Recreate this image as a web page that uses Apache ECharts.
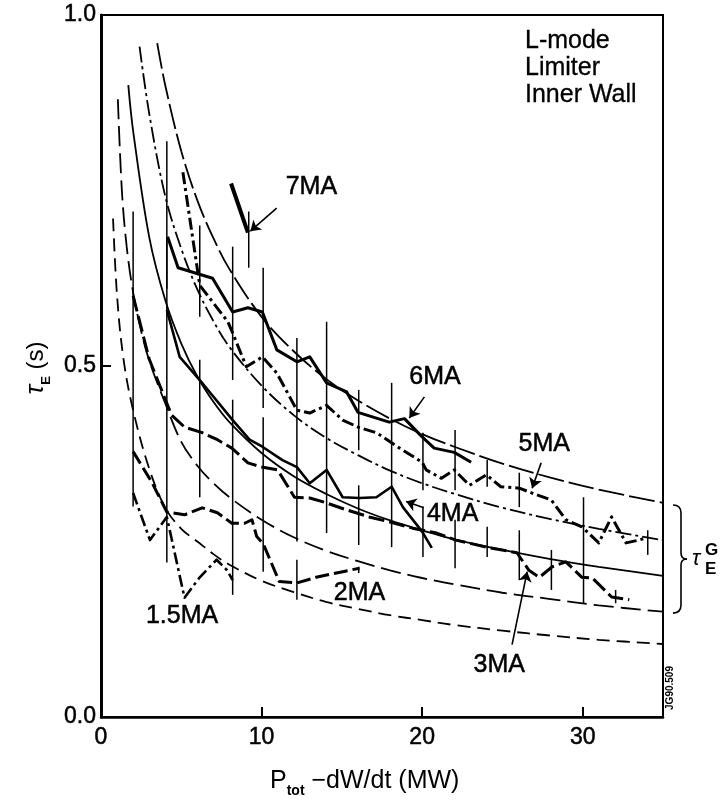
<!DOCTYPE html>
<html><head><meta charset="utf-8">
<script src="https://cdn.jsdelivr.net/npm/echarts@6/dist/echarts.min.js"></script>
<style>html,body{margin:0;padding:0;background:#fff}#c{width:720px;height:801px}</style>
</head><body><div id="c"></div>
<script>
const FONT = '"Liberation Sans", Arial, Helvetica, sans-serif';
const xTicks = [0, 10, 20, 30];
const yTicks = [0.0, 0.5, 1.0];

// smooth scaling curves (tau_E^G)
const curveA = [[3.5,0.96],[4,0.90],[5,0.806],[6,0.736],[7,0.682],[8,0.638],[10,0.570],[12,0.521],[14,0.482],[16,0.451],[18,0.425],[20,0.403],[22,0.385],[25,0.361],[28,0.341],[31,0.324],[35,0.305]];
const curveB = [[2.4,0.955],[3,0.86],[4,0.742],[5,0.667],[6,0.609],[7,0.564],[8,0.527],[10,0.472],[12,0.430],[14,0.398],[16,0.373],[18,0.351],[20,0.333],[22,0.318],[25,0.298],[28,0.282],[31,0.268],[35,0.252]];
const curveC = [[1.7,0.90],[2,0.835],[3,0.684],[4,0.594],[5,0.532],[6,0.485],[7,0.449],[8,0.420],[10,0.376],[12,0.343],[14,0.318],[16,0.297],[18,0.280],[20,0.266],[22,0.253],[25,0.238],[28,0.225],[31,0.214],[35,0.201]];
const curveD = [[1.05,0.88],[1.3,0.75],[1.6,0.67],[2,0.605],[2.5,0.55],[3,0.508],[4,0.447],[5,0.392],[6,0.358],[7,0.333],[8,0.313],[10,0.281],[12,0.256],[14,0.237],[16,0.222],[18,0.209],[20,0.198],[22,0.189],[25,0.177],[28,0.168],[31,0.159],[35,0.150]];
const curveE = [[0.75,0.71],[1,0.60],[1.4,0.51],[2,0.437],[3,0.354],[4,0.298],[5,0.268],[6,0.250],[7,0.232],[8,0.217],[10,0.194],[12,0.178],[14,0.164],[16,0.154],[18,0.145],[20,0.138],[22,0.131],[25,0.123],[28,0.116],[31,0.110],[35,0.104]];

// measured data per plasma current
const ma7 = [[8.1,0.76],[9.15,0.69]];
const ma6 = [[4.15,0.684],[4.8,0.640],[6.95,0.625],[8.2,0.577],[9.15,0.583],[10.05,0.577],[10.95,0.523],[12.2,0.506],[13.0,0.513],[14.05,0.476],[15.3,0.463],[16.0,0.434],[17.95,0.420],[18.9,0.425],[20.0,0.399],[20.75,0.383],[22.0,0.377],[23.05,0.363]];
const ma5 = [[5.1,0.776],[6.15,0.615],[7.9,0.563],[8.2,0.547],[9.05,0.499],[10.05,0.513],[10.95,0.490],[11.75,0.456],[12.2,0.437],[13.0,0.433],[14.05,0.444],[15.05,0.423],[16.0,0.413],[17.15,0.405],[18.6,0.383],[20.0,0.363],[20.25,0.352],[21.2,0.340],[22.0,0.352],[22.95,0.330],[24.0,0.345],[24.9,0.328],[26.05,0.326],[26.85,0.319],[28.05,0.309],[28.95,0.281],[29.95,0.271],[31.0,0.248],[31.8,0.285],[32.7,0.248],[33.5,0.252],[34.05,0.256]];
const ma4 = [[4.1,0.580],[4.9,0.513],[6.15,0.480],[8.2,0.423],[9.25,0.395],[10.05,0.385],[11.3,0.366],[12.2,0.356],[13.0,0.333],[14.05,0.352],[15.05,0.313],[16.1,0.312],[17.15,0.313],[18.1,0.328],[18.8,0.299],[20.0,0.264],[20.6,0.241]];
const ma3 = [[2.0,0.60],[3.0,0.51],[4.1,0.447],[4.4,0.430],[5.2,0.413],[6.3,0.405],[7.25,0.395],[8.15,0.383],[9.15,0.362],[10.0,0.356],[11.0,0.352],[12.05,0.313],[13.0,0.312],[13.9,0.306],[15.3,0.295],[16.7,0.285],[17.95,0.278],[19.4,0.269],[20.9,0.262],[22.1,0.252],[24.2,0.241],[25.9,0.234],[26.65,0.209],[27.3,0.199],[28.1,0.214],[28.95,0.221],[29.95,0.199],[30.6,0.198],[31.8,0.171],[32.9,0.167]];
const ma2 = [[2.0,0.378],[3.15,0.335],[4.1,0.292],[5.2,0.288],[6.3,0.298],[7.25,0.291],[8.15,0.276],[8.95,0.276],[9.4,0.281],[9.7,0.257],[10.1,0.247],[11.1,0.193],[12.2,0.191],[13.4,0.199],[15.05,0.207],[16.1,0.212]];
const ma15 = [[2.0,0.319],[3.05,0.252],[4.1,0.285],[5.2,0.170],[6.15,0.199],[7.2,0.224],[7.85,0.209],[8.2,0.195]];

// vertical scatter bars: [P, low, high]
const errBars = [[2.0,0.30,0.72],[4.1,0.61,0.82],[4.1,0.22,0.68],[6.15,0.57,0.70],[6.15,0.313,0.509],[8.2,0.48,0.67],[8.2,0.174,0.452],[9.2,0.64,0.72],[10.1,0.44,0.64],[10.1,0.207,0.427],[12.2,0.25,0.54],[12.2,0.167,0.224],[14.05,0.262,0.563],[16.05,0.38,0.466],[16.05,0.245,0.33],[16.05,0.205,0.214],[18.1,0.242,0.476],[20.05,0.323,0.405],[20.05,0.228,0.30],[22.05,0.323,0.409],[22.05,0.212,0.281],[24.05,0.328,0.366],[24.05,0.228,0.271],[26.05,0.299,0.348],[26.05,0.195,0.266],[28.05,0.181,0.238],[30.05,0.162,0.313],[32.05,0.162,0.181],[34.05,0.231,0.266]];

// annotation labels and arrows (data coordinates)
const maNames = ['7MA', '6MA', '5MA', '4MA', '3MA', '2MA', '1.5MA'];
const maLabelPos = [[13.1,0.755],[20.8,0.484],[27.6,0.389],[21.9,0.289],[24.8,0.074],[16.1,0.177],[5.05,0.144]];
const arrows = [
  [[10.94,0.725],[9.3,0.692]],
  [[20.14,0.456],[19.2,0.426]],
  [[27.41,0.362],[26.85,0.326]],
  [[20.1,0.298],[19.0,0.307]],
  [[25.6,0.103],[26.54,0.207]]
];
const bracketRange = [0.148, 0.302];

const chart = echarts.init(document.getElementById('c'));

function smoothCurve(data, dash, width) {
  return {type:'line', data:data, smooth:0.35, showSymbol:false, symbol:'none', silent:true,
    lineStyle:{color:'#000', width:width, type:dash}, z:2};
}
function dataLine(data, dash, width) {
  return {type:'line', data:data, smooth:false, showSymbol:false, symbol:'none', silent:true,
    lineStyle:{color:'#000', width:width, type:dash, join:'round', cap:'butt'}, z:3};
}

const option = {
  animation:false,
  backgroundColor:'#fff',
  textStyle:{fontFamily:FONT, color:'#000'},
  grid:{left:101, right:57, top:15, bottom:84, show:true, borderColor:'#000', borderWidth:2, backgroundColor:'transparent'},
  xAxis:{type:'value', min:0, max:35, interval:10,
    axisLine:{lineStyle:{color:'#000', width:2.5}},
    axisTick:{inside:true, length:10, lineStyle:{color:'#000', width:2}},
    axisLabel:{color:'#000', fontSize:23, fontFamily:FONT, margin:9, textBorderColor:'#000', textBorderWidth:0.5,
      formatter:function(v){ return xTicks.indexOf(v) >= 0 ? String(v) : ''; }},
    splitLine:{show:false}},
  yAxis:{type:'value', min:0, max:1, interval:0.5,
    axisLine:{show:true, lineStyle:{color:'#000', width:3}},
    axisTick:{show:true, inside:true, length:10, lineStyle:{color:'#000', width:2}},
    axisLabel:{color:'#000', fontSize:23, fontFamily:FONT, margin:5, textBorderColor:'#000', textBorderWidth:0.5,
      formatter:function(v){ return yTicks.some(t => Math.abs(t - v) < 1e-9) ? v.toFixed(1) : ''; }},
    splitLine:{show:false}},
  series:[
    smoothCurve(curveA, [26,5], 1.8),
    smoothCurve(curveB, [16,4,3,4], 1.8),
    smoothCurve(curveC, 'solid', 1.8),
    smoothCurve(curveD, [20,7], 1.8),
    smoothCurve(curveE, [13,7], 1.8),
    dataLine(ma7, 'solid', 4),
    dataLine(ma6, 'solid', 3),
    dataLine(ma5, [12,4,3,4], 3),
    dataLine(ma4, 'solid', 2.6),
    dataLine(ma3, [16,5], 3),
    dataLine(ma2, [14,5], 3),
    dataLine(ma15, [12,4,3,4], 2.6),
    {type:'custom', data:errBars, silent:true, z:4,
      encode:{x:0, y:[1,2]},
      renderItem:function(params, api){
        const p1 = api.coord([api.value(0), api.value(1)]);
        const p2 = api.coord([api.value(0), api.value(2)]);
        return {type:'line', shape:{x1:p1[0], y1:p1[1], x2:p2[0], y2:p2[1]},
          style:{stroke:'#000', lineWidth:1.5}};
      }},
    {type:'lines', coordinateSystem:'cartesian2d', silent:true, z:5,
      symbol:['none','arrow'], symbolSize:[0,10],
      lineStyle:{color:'#000', width:1.6, opacity:1, curveness:0},
      data:arrows.map(a => ({coords:a}))}
  ]
};
chart.setOption(option);

// decorations positioned from the chart's scales
const pt = chart.convertToPixel({gridIndex:0}, [35, bracketRange[1]]);
const pb = chart.convertToPixel({gridIndex:0}, [35, bracketRange[0]]);
const bx = pt[0] + 10, yT = pt[1], yB = pb[1], yM = (yT + yB) / 2;
const bw = 8;
const graphics = [
  {type:'bezierCurve', shape:{x1:bx, y1:yT, x2:bx+bw, y2:yT+8, cpx1:bx+bw, cpy1:yT}, style:{stroke:'#000', lineWidth:1.6, fill:null}},
  {type:'line', shape:{x1:bx+bw, y1:yT+8, x2:bx+bw, y2:yM-6}, style:{stroke:'#000', lineWidth:1.6}},
  {type:'bezierCurve', shape:{x1:bx+bw, y1:yM-6, x2:bx+bw+6, y2:yM, cpx1:bx+bw, cpy1:yM}, style:{stroke:'#000', lineWidth:1.6, fill:null}},
  {type:'bezierCurve', shape:{x1:bx+bw+6, y1:yM, x2:bx+bw, y2:yM+6, cpx1:bx+bw, cpy1:yM}, style:{stroke:'#000', lineWidth:1.6, fill:null}},
  {type:'line', shape:{x1:bx+bw, y1:yM+6, x2:bx+bw, y2:yB-8}, style:{stroke:'#000', lineWidth:1.6}},
  {type:'bezierCurve', shape:{x1:bx+bw, y1:yB-8, x2:bx, y2:yB, cpx1:bx+bw, cpy1:yB}, style:{stroke:'#000', lineWidth:1.6, fill:null}},
  {type:'text', style:{text:'τ', x:bx+19, y:yM, fill:'#000', font:'italic 22px ' + FONT, textAlign:'left', textVerticalAlign:'middle'}},
  {type:'text', style:{text:'G', x:bx+32, y:yM-9, fill:'#000', font:'bold 17px ' + FONT, textAlign:'left', textVerticalAlign:'middle'}},
  {type:'text', style:{text:'E', x:bx+32, y:yM+10, fill:'#000', font:'bold 17px ' + FONT, textAlign:'left', textVerticalAlign:'middle'}},
  {type:'text', style:{text:'L-mode\nLimiter\nInner Wall', x:525, y:28, fill:'#000', stroke:'#000', lineWidth:0.3, font:'25px ' + FONT, lineHeight:27, textAlign:'left', textVerticalAlign:'top'}},
  {type:'text', rotation:Math.PI/2, x:670, y:688, style:{text:'JG90.509', x:0, y:0, fill:'#000', font:'bold 10px ' + FONT, textAlign:'center', textVerticalAlign:'middle'}},
  {type:'text', style:{text:'{n|P}{s|tot}{n| −dW/dt (MW)}', x:270, y:781, textAlign:'left', textVerticalAlign:'middle',
    rich:{n:{fontSize:25, fontFamily:FONT, fill:'#000', lineHeight:34}, s:{fontSize:14, fontFamily:FONT, fontWeight:'bold', fill:'#000', lineHeight:14, verticalAlign:'bottom'}}}},
  {type:'text', rotation:Math.PI/2, x:36, y:368, style:{text:'{t|τ}{s|E}{n| (s)}', x:0, y:0, textAlign:'center', textVerticalAlign:'middle',
    rich:{t:{fontSize:26, fontFamily:FONT, fontStyle:'italic', fill:'#000', lineHeight:34}, s:{fontSize:13, fontFamily:FONT, fontWeight:'bold', fill:'#000', lineHeight:13, verticalAlign:'bottom'}, n:{fontSize:24, fontFamily:FONT, fill:'#000', lineHeight:34}}}}
];
maNames.forEach(function(name, i){
  const p = chart.convertToPixel({gridIndex:0}, maLabelPos[i]);
  graphics.push({type:'text', z:10, style:{text:name, x:p[0], y:p[1], fill:'#000', stroke:'#000', lineWidth:0.5,
    font:'25px ' + FONT, textAlign:'center', textVerticalAlign:'middle'}});
});
chart.setOption({graphic:graphics});
</script>
</body></html>
